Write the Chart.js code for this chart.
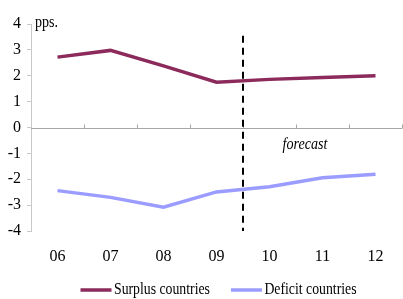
<!DOCTYPE html>
<html>
<head>
<meta charset="utf-8">
<script src="https://cdn.jsdelivr.net/npm/chart.js@4/dist/chart.umd.min.js"></script>
<style>
  html, body { margin: 0; padding: 0; background: #fff; }
  #wrap { width: 403px; height: 299px; }
</style>
</head>
<body>
<div id="wrap"><canvas id="chart"></canvas></div>
<script>
const years = ['06', '07', '08', '09', '10', '11', '12'];
const surplus = [2.72, 2.98, 2.38, 1.75, 1.86, 1.93, 2.0];
const deficit = [-2.44, -2.7, -3.08, -2.49, -2.29, -1.94, -1.81];
const yTicks = [4, 3, 2, 1, 0, -1, -2, -3, -4];
const forecastStart = 3.5; // between 09 and 10

const FONT = "'Liberation Serif', serif";
Chart.defaults.font.family = FONT;
Chart.defaults.font.size = 16;
Chart.defaults.color = '#000';

// the source text is a bit condensed horizontally
function squeezeText(ctx, text, x, y, sx) {
  ctx.save();
  ctx.translate(x, y);
  ctx.scale(sx, 1);
  ctx.fillText(text, 0, 0);
  ctx.restore();
}

// zero line with small ticks, dashed forecast divider, text notes, legend
const extras = {
  id: 'extras',
  beforeDatasetsDraw(chart) {
    const { ctx, chartArea, scales: { x, y } } = chart;
    const y0 = Math.round(y.getPixelForValue(0)) + 0.5;
    ctx.save();
    ctx.strokeStyle = '#a6a6a6';
    ctx.lineWidth = 1;
    ctx.beginPath();
    ctx.moveTo(chartArea.left, y0);
    ctx.lineTo(chartArea.right, y0);
    for (let i = 0; i < years.length; i++) {
      const px = Math.round(x.getPixelForValue(i + 0.5)) + 0.5;
      ctx.moveTo(px, y0);
      ctx.lineTo(px, y0 - 4);
    }
    ctx.stroke();
    ctx.restore();
  },
  afterDatasetsDraw(chart) {
    const { ctx, chartArea, scales: { x, y } } = chart;
    const xd = Math.round(x.getPixelForValue(forecastStart));
    ctx.save();
    ctx.strokeStyle = '#000';
    ctx.lineWidth = 2;
    ctx.setLineDash([7, 5]);
    ctx.beginPath();
    ctx.moveTo(xd, y.getPixelForValue(3.55));
    ctx.lineTo(xd, chartArea.bottom);
    ctx.stroke();
    ctx.setLineDash([]);

    ctx.fillStyle = '#000';
    ctx.font = "italic 16px 'Liberation Serif', serif";
    ctx.textAlign = 'center';
    ctx.textBaseline = 'middle';
    squeezeText(ctx, 'forecast', x.getPixelForValue(4.67), y.getPixelForValue(-0.68), 0.88);

    ctx.font = "16px 'Liberation Serif', serif";
    ctx.textAlign = 'left';
    squeezeText(ctx, 'pps.', chartArea.left + 4, y.getPixelForValue(4) - 1, 0.88);

    // legend
    const ds = chart.data.datasets;
    const sx = 0.86, sample = 31, gap = 2.5, between = 21;
    const widths = ds.map(d => ctx.measureText(d.label).width * sx);
    const total = widths.reduce((a, w) => a + sample + gap + w, 0) + between * (ds.length - 1);
    let lx = (chartArea.left + chartArea.right) / 2 - total / 2 + 2;
    const ly = 290;
    ds.forEach((d, i) => {
      ctx.strokeStyle = d.borderColor;
      ctx.lineWidth = 3.5;
      ctx.beginPath();
      ctx.moveTo(lx, ly);
      ctx.lineTo(lx + sample, ly);
      ctx.stroke();
      squeezeText(ctx, d.label, lx + sample + gap, ly, sx);
      lx += sample + gap + widths[i] + between;
    });
    ctx.restore();
  }
};

new Chart(document.getElementById('chart'), {
  type: 'line',
  data: {
    labels: years,
    datasets: [
      {
        label: 'Surplus countries',
        data: surplus,
        borderColor: '#8b2a5b',
        backgroundColor: '#8b2a5b',
        borderWidth: 3.5,
        pointRadius: 0,
        tension: 0
      },
      {
        label: 'Deficit countries',
        data: deficit,
        borderColor: '#9b9cff',
        backgroundColor: '#9b9cff',
        borderWidth: 3.5,
        pointRadius: 0,
        tension: 0
      }
    ]
  },
  plugins: [extras],
  options: {
    responsive: true,
    maintainAspectRatio: false,
    animation: false,
    layout: { padding: { top: 24, right: 1, left: 0, bottom: 0 } },
    plugins: {
      tooltip: { enabled: false },
      legend: { display: false }
    },
    scales: {
      x: {
        offset: true,
        grid: { display: false },
        border: { display: false },
        afterFit(scale) { scale.height = 68; },
        ticks: {
          font: { family: FONT, size: 16 },
          padding: 8,
          maxRotation: 0
        }
      },
      y: {
        min: -4,
        max: 4,
        afterFit(scale) { scale.width = 31; },
        afterBuildTicks(scale) { scale.ticks = yTicks.map(v => ({ value: v })); },
        grid: {
          drawOnChartArea: false,
          tickLength: 4,
          color: '#c8c8c8'
        },
        border: { color: '#c8c8c8' },
        ticks: {
          font: { family: FONT, size: 16 },
          padding: 6
        }
      }
    }
  }
});
</script>
</body>
</html>
